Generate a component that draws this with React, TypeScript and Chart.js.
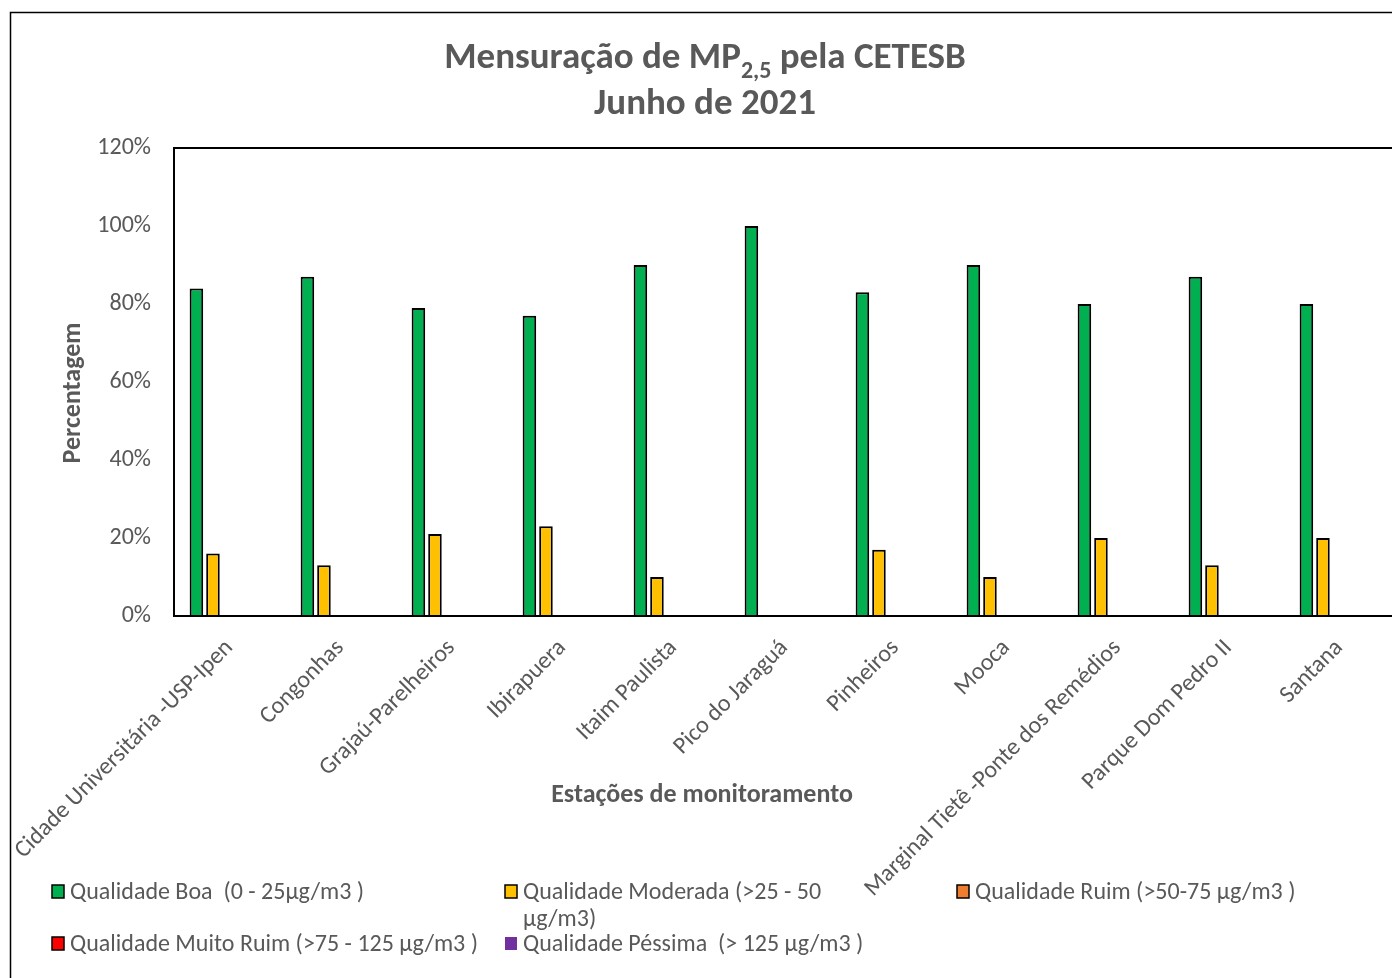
import React, { useEffect, useRef } from "react";
import { Chart, registerables } from "chart.js";

Chart.register(...registerables);

// ---- data ----
const stations = [
  "Cidade Universitária -USP-Ipen",
  "Congonhas",
  "Grajaú-Parelheiros",
  "Ibirapuera",
  "Itaim Paulista",
  "Pico do Jaraguá",
  "Pinheiros",
  "Mooca",
  "Marginal Tietê -Ponte dos Remédios",
  "Parque Dom Pedro II",
  "Santana",
];
const boa = [84, 87, 79, 77, 90, 100, 83, 90, 80, 87, 80];
const moderada = [16, 13, 21, 23, 10, 0, 17, 10, 20, 13, 20];
const ruim = [0, 0, 0, 0, 0, 0, 0, 0, 0, 0, 0];
const muitoRuim = [0, 0, 0, 0, 0, 0, 0, 0, 0, 0, 0];
const pessima = [0, 0, 0, 0, 0, 0, 0, 0, 0, 0, 0];

const seriesNames = [
  "Qualidade Boa  (0 - 25µg/m3 )",
  "Qualidade Moderada (>25 - 50\nµg/m3)",
  "Qualidade Ruim (>50-75 µg/m3 )",
  "Qualidade Muito Ruim (>75 - 125 µg/m3 )",
  "Qualidade Péssima  (> 125 µg/m3 )",
];
const seriesColors = ["#00B050", "#FFC000", "#ED7D31", "#FF0000", "#7030A0"];
const seriesBordered = [true, true, true, true, false];
const yTickValues = [0, 20, 40, 60, 80, 100, 120];

const titleMain = "Mensuração de MP";
const titleSub = "2,5";
const titleRest = " pela CETESB";
const titleLine2 = "Junho de 2021";
const yAxisTitle = "Percentagem";
const xAxisTitle = "Estações de monitoramento";

const FONT = "Carlito, Lato, 'Noto Sans', sans-serif";
const GREY = "#595959";

const decor = {
  id: "decor",
  beforeDraw(chart: any) {
    const { ctx, width, height } = chart;
    ctx.save();
    ctx.fillStyle = "#ffffff";
    ctx.fillRect(0, 0, width, height);
    ctx.restore();
  },
  afterDraw(chart: any) {
    const { ctx, chartArea: ca, width, height } = chart;
    ctx.save();
    // outer chart frame
    ctx.strokeStyle = "#000";
    ctx.lineWidth = 1.5;
    ctx.strokeRect(10.5, 12.5, width + 20, height + 20);
    // plot frame
    ctx.lineWidth = 2;
    ctx.strokeStyle = "#000";
    ctx.strokeRect(ca.left, ca.top, ca.right - ca.left + 20, ca.bottom - ca.top);

    // title
    const cx = 705;
    ctx.fillStyle = GREY;
    ctx.textBaseline = "alphabetic";
    ctx.textAlign = "left";
    const bigFont = `bold 37px ${FONT}`;
    const subFont = `bold 24px ${FONT}`;
    ctx.font = bigFont;
    const w1 = ctx.measureText(titleMain).width;
    const w3 = ctx.measureText(titleRest).width;
    ctx.font = subFont;
    const w2 = ctx.measureText(titleSub).width;
    let x = cx - (w1 + w2 + w3) / 2;
    ctx.font = bigFont;
    ctx.fillText(titleMain, x, 68);
    x += w1;
    ctx.font = subFont;
    ctx.fillText(titleSub, x, 78);
    x += w2;
    ctx.font = bigFont;
    ctx.fillText(titleRest, x, 68);
    ctx.textAlign = "center";
    ctx.fillText(titleLine2, cx, 114);

    // y axis title
    ctx.save();
    ctx.translate(80, (ca.top + ca.bottom) / 2 + 11);
    ctx.rotate(-Math.PI / 2);
    ctx.font = `bold 26px ${FONT}`;
    ctx.textAlign = "center";
    ctx.textBaseline = "alphabetic";
    ctx.fillText(yAxisTitle, 0, 0);
    ctx.restore();

    // x axis title
    ctx.font = `bold 26px ${FONT}`;
    ctx.textAlign = "center";
    ctx.textBaseline = "alphabetic";
    ctx.fillText(xAxisTitle, 702, 802);

    // legend
    const colX = [52, 505, 957];
    const rowY = [899, 951];
    ctx.font = `24px ${FONT}`;
    ctx.textAlign = "left";
    chart.data.datasets.forEach((ds: any, i: number) => {
      const col = i % 3;
      const row = Math.floor(i / 3);
      const lx = colX[col];
      const ly = rowY[row];
      ctx.fillStyle = seriesColors[i];
      ctx.fillRect(lx, ly - 14, 12, 13);
      if (seriesBordered[i]) {
        ctx.strokeStyle = "#000";
        ctx.lineWidth = 1.5;
        ctx.strokeRect(lx, ly - 14, 12, 13);
      }
      ctx.fillStyle = GREY;
      const lines = String(ds.label).split("\n");
      lines.forEach((ln: string, k: number) => {
        ctx.fillText(ln, lx + 18, ly + k * 27);
      });
    });
    ctx.restore();
  },
};

export default function App() {
  const ref = useRef<HTMLCanvasElement | null>(null);
  useEffect(() => {
    if (!ref.current) return;
    const seriesData = [boa, moderada, ruim, muitoRuim, pessima];
    const chart = new Chart(ref.current, {
      type: "bar",
      data: {
        labels: stations,
        datasets: seriesData.map((d, i) => ({
          label: seriesNames[i],
          data: d,
          backgroundColor: seriesColors[i],
          borderColor: "#000",
          borderWidth: seriesBordered[i] ? 2 : 0,
          borderSkipped: "start" as const,
          categoryPercentage: 0.745,
          barPercentage: 0.82,
        })),
      },
      options: {
        responsive: false,
        animation: false,
        layout: { padding: { left: 4, top: 148, right: 5, bottom: 0 } },
        plugins: {
          legend: { display: false },
          title: { display: false },
          tooltip: { enabled: false },
        },
        scales: {
          x: {
            grid: { display: false },
            border: { display: false },
            ticks: {
              autoSkip: false,
              maxRotation: 45,
              minRotation: 45,
              padding: 10,
              color: GREY,
              font: { family: FONT, size: 24 },
            },
            afterFit: (s: any) => {
              s.height = 362;
            },
          },
          y: {
            min: 0,
            max: 120,
            grid: { display: false },
            border: { display: false },
            afterBuildTicks: (s: any) => {
              s.ticks = yTickValues.map((v) => ({ value: v }));
            },
            ticks: {
              padding: 15,
              color: GREY,
              font: { family: FONT, size: 24 },
              callback: (v: any) => `${v}%`,
            },
            afterFit: (s: any) => {
              s.width = 170;
            },
          },
        },
      },
      plugins: [decor],
    });
    return () => chart.destroy();
  }, []);
  return (
    <div
      style={{
        position: "fixed",
        left: 0,
        top: 0,
        width: 1392,
        height: 978,
        overflow: "hidden",
        background: "#fff",
      }}
    >
      <canvas ref={ref} width={1400} height={978} style={{ width: 1400, height: 978, display: "block" }} />
    </div>
  );
}
